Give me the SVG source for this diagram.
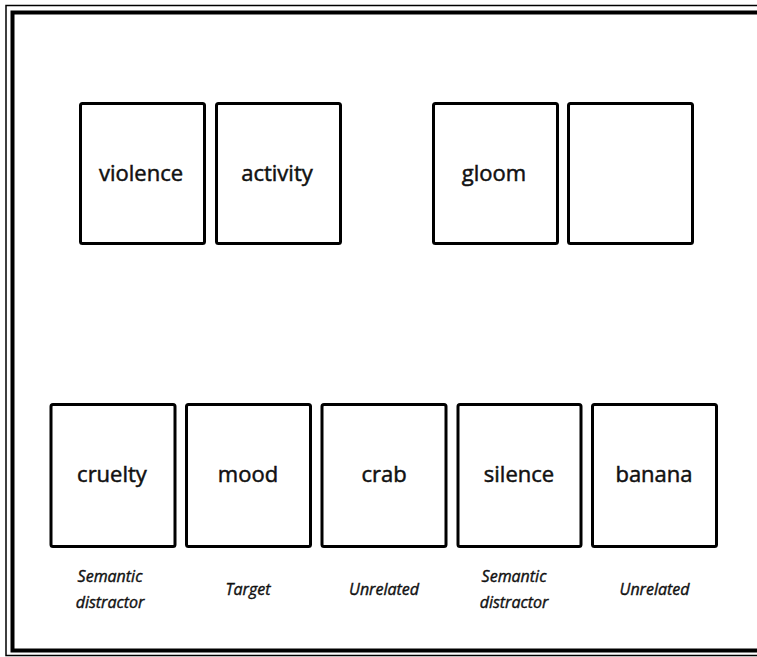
<svg xmlns="http://www.w3.org/2000/svg" width="757" height="657" viewBox="0 0 757 657">
<style>
.box{fill:#fff;stroke:#000;stroke-width:3}
.w{font-family:"Open Sans","Liberation Sans",sans-serif;font-size:22px;fill:#111;stroke:#111;stroke-width:0.5;text-anchor:middle}
.lab{font-family:"Open Sans","Liberation Sans",sans-serif;font-size:16px;font-style:italic;fill:#111;stroke:#111;stroke-width:0.4;text-anchor:middle}
</style>
<rect width="757" height="657" fill="#fff"/>
<g id="frame" fill="none" stroke="#000">
<rect x="6" y="5.5" width="800" height="650" stroke-width="1.5"/>
<rect x="12.5" y="12.5" width="800" height="638" stroke-width="4"/>
</g>
<g id="connectors"></g>
<g id="n-violence"><rect class="box" x="80.5" y="103.5" width="124" height="140" rx="2"/><text class="w" x="141" y="181">violence</text></g>
<g id="n-activity"><rect class="box" x="216.5" y="103.5" width="124" height="140" rx="2"/><text class="w" x="277" y="181">activity</text></g>
<g id="n-gloom"><rect class="box" x="433.5" y="103.5" width="124" height="140" rx="2"/><text class="w" x="494" y="181">gloom</text></g>
<g id="n-blank"><rect class="box" x="568.5" y="103.5" width="124" height="140" rx="2"/></g>
<g id="n-cruelty"><rect class="box" x="51" y="404.5" width="124" height="142" rx="2"/><text class="w" x="112" y="482">cruelty</text><text class="lab" x="110" y="582">Semantic</text><text class="lab" x="110" y="608">distractor</text></g>
<g id="n-mood"><rect class="box" x="186.5" y="404.5" width="124" height="142" rx="2"/><text class="w" x="248" y="482">mood</text><text class="lab" x="248" y="595">Target</text></g>
<g id="n-crab"><rect class="box" x="322" y="404.5" width="124" height="142" rx="2"/><text class="w" x="384" y="482">crab</text><text class="lab" x="384" y="595">Unrelated</text></g>
<g id="n-silence"><rect class="box" x="458" y="404.5" width="123" height="142" rx="2"/><text class="w" x="519" y="482">silence</text><text class="lab" x="514" y="582">Semantic</text><text class="lab" x="514" y="608">distractor</text></g>
<g id="n-banana"><rect class="box" x="592.5" y="404.5" width="124" height="142" rx="2"/><text class="w" x="654" y="482">banana</text><text class="lab" x="654.5" y="595">Unrelated</text></g>
</svg>
